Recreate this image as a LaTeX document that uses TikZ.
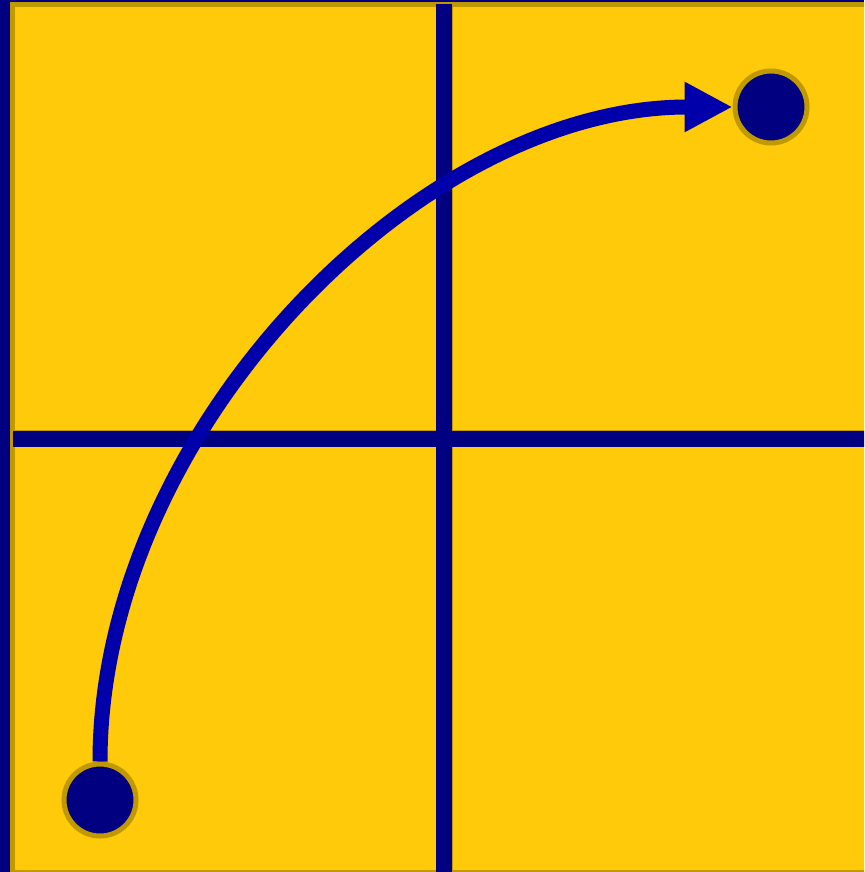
\documentclass[tikz,border=0pt]{standalone}
\usetikzlibrary{arrows.meta}
\definecolor{navy}{RGB}{0,0,128}
\definecolor{sunyellow}{RGB}{255,202,10}
\definecolor{goldedge}{RGB}{192,152,0}
\definecolor{arcblue}{RGB}{0,0,170}
\begin{document}
\begin{tikzpicture}[x=1pt,y=-1pt,
  gridedge/.style={draw=goldedge,line width=0.8pt},
  gridbar/.style={fill=navy},
  dot/.style={circle,fill=navy,draw=goldedge,line width=5pt,minimum size=72pt,inner sep=0pt},
  arc/.style={draw=arcblue,line width=15pt,-{Triangle[length=48pt,width=47pt]}}]
\useasboundingbox (0,0) rectangle (864,872);
\clip (0,0) rectangle (864,872);
\fill[navy] (0,0) rectangle (864,872);
\draw[fill=sunyellow,draw=goldedge,line width=5pt] (12.5,4.5) rectangle (880,872.5);
\draw[gridedge] (436,4.5) rectangle (452,880);
\draw[gridedge] (12.5,430.5) rectangle (880,446.5);
\fill[gridbar] (436,4.5) rectangle (452,880);
\fill[gridbar] (12.5,430.5) rectangle (880,446.5);
\node[dot] (start) at (100,800) {};
\node[dot] (goal) at (771,107) {};
\draw[arc] (start.north) .. controls +(0,-327) and +(-317,0) .. (goal.west);
\end{tikzpicture}
\end{document}
